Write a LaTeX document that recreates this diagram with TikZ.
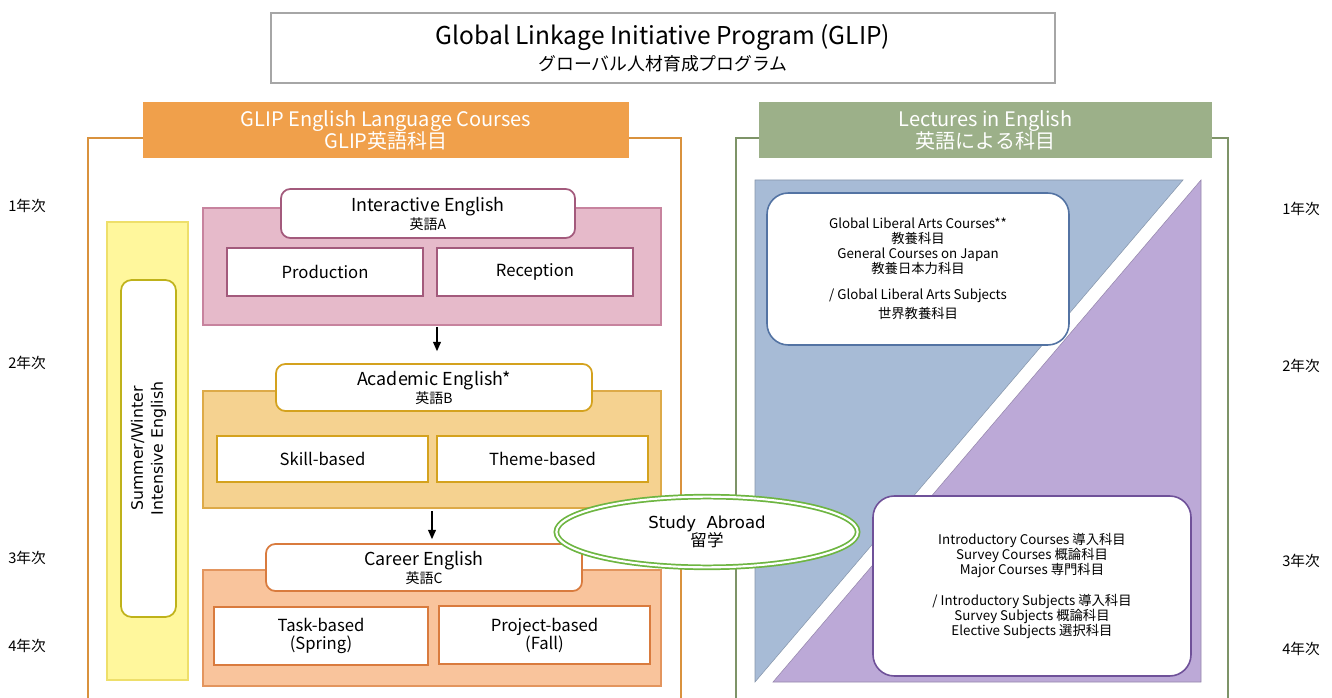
\documentclass[tikz,border=0pt]{standalone}
\usepackage{fontspec}
\setmainfont{Noto Sans CJK JP}
\newfontfamily\verd{DejaVu Sans}
\usetikzlibrary{shapes.geometric,arrows.meta}

\definecolor{glipOrange}{HTML}{F0A04B}
\definecolor{frameOrange}{HTML}{D9923E}
\definecolor{lecGreen}{HTML}{9CB089}
\definecolor{frameGreen}{HTML}{7E9468}
\definecolor{colYellow}{HTML}{FFF79C}
\definecolor{colYellowLine}{HTML}{EEDF6A}
\definecolor{olive}{HTML}{BFB21A}
\definecolor{pinkFill}{HTML}{E6BACA}
\definecolor{pinkLine}{HTML}{C7839E}
\definecolor{pinkDark}{HTML}{A35A7C}
\definecolor{acadFill}{HTML}{F5D290}
\definecolor{acadLine}{HTML}{DDAA48}
\definecolor{acadDark}{HTML}{D4A21E}
\definecolor{carFill}{HTML}{F9C49C}
\definecolor{carLine}{HTML}{E3955E}
\definecolor{carDark}{HTML}{D97B3E}
\definecolor{triBlue}{HTML}{A7BBD6}
\definecolor{triPurple}{HTML}{BCA9D7}
\definecolor{boxBlue}{HTML}{5373A3}
\definecolor{boxPurple}{HTML}{6F5199}
\definecolor{abroadGreen}{HTML}{6DB541}

\tikzset{
  boxsize/.style 2 args={minimum width=#1*0.75pt, minimum height=#2*0.75pt},
  yearlabel/.style={anchor=west, inner sep=0pt, font=\fontsize{11}{13}\selectfont},
  plainbox/.style={draw=gray!70, line width=1.2pt, fill=white, inner sep=0pt, align=center},
  header/.style={fill=#1, text=white, inner sep=0pt, align=center,
    font=\fontsize{15}{16.5}\selectfont},
  panel/.style 2 args={fill=#1, draw=#2, line width=1pt, inner sep=0pt},
  titlebox/.style={fill=white, draw=#1, line width=1.3pt, rounded corners=7pt,
    inner sep=0pt, align=center, font=\fontsize{13.4}{13.5}\selectfont},
  subbox/.style={fill=white, draw=#1, line width=1.6pt, inner sep=0pt,
    align=center, font=\fontsize{12.5}{13.5}\selectfont},
  lecbox/.style={fill=white, draw=#1, line width=1.2pt, rounded corners=16pt,
    inner sep=0pt, align=center, font=\fontsize{10}{11.25}\selectfont},
  flow/.style={-{Triangle[length=7pt,width=6pt]}, line width=0.8pt},
  yomi/.style={font=\fontsize{11}{12}\selectfont}
}
\newcommand{\yomi}[1]{{\fontsize{10.5}{12}\selectfont #1}}

\begin{document}
\begin{tikzpicture}[x=0.75pt,y=-0.75pt]
\useasboundingbox (0,0) rectangle (1332,698);

% year labels
\node[yearlabel] (y1l) at (8,206) {1年次};
\node[yearlabel] (y2l) at (8,363) {2年次};
\node[yearlabel] (y3l) at (8,558) {3年次};
\node[yearlabel] (y4l) at (8,646) {4年次};
\node[yearlabel] (y1r) at (1282,209) {1年次};
\node[yearlabel] (y2r) at (1282,366) {2年次};
\node[yearlabel] (y3r) at (1282,561) {3年次};
\node[yearlabel] (y4r) at (1282,649) {4年次};

% programme title
\node[plainbox, boxsize={784}{70}, font=\fontsize{18.4}{19.5}\selectfont] (glip) at (663,48)
  {Global Linkage Initiative Program (GLIP)\\{\fontsize{13.4}{15}\selectfont グローバル人材育成プログラム}};

% frames
\draw[frameOrange, line width=1.3pt] (88,698) -- (88,138) -- (681,138) -- (681,698);
\draw[frameGreen, line width=1.3pt] (736,698) -- (736,138) -- (1228,138) -- (1228,698);

% headers
\node[header=glipOrange, boxsize={486}{56}] (engH) at (386,130)
  {GLIP English Language Courses\\GLIP英語科目};
\node[header=lecGreen, boxsize={453}{56}] (lecH) at (985.5,130)
  {Lectures in English\\英語による科目};

% intensive column
\node[panel={colYellow}{colYellowLine}, boxsize={81}{458}] (intcol) at (147.5,451) {};
\node[fill=white, draw=olive, line width=1.3pt, rounded corners=8pt, inner sep=0pt,
  boxsize={55}{337}] (intbox) at (148.5,448.5) {};
\node[rotate=90, align=center, font=\verd\fontsize{11.8}{15}\selectfont] (intT)
  at (intbox.center) {Summer/Winter\\Intensive English};

% English A
\node[panel={pinkFill}{pinkLine}, boxsize={458}{117}] (pink) at (432,266.5) {};
\node[titlebox=pinkDark, boxsize={294}{49}] (engA) at (428,213.5)
  {Interactive English\\\yomi{英語A}};
\node[subbox=pinkDark, boxsize={196}{48}] (prod) at (325,272) {Production};
\node[subbox=pinkDark, boxsize={196}{48}] (recp) at (535,272) {Reception};

% English B
\node[panel={acadFill}{acadLine}, boxsize={458}{117}] (acad) at (432,449.5) {};
\node[titlebox=acadDark, boxsize={316}{47}] (engB) at (434,387.5)
  {Academic English*\\\yomi{英語B}};
\node[subbox=acadDark, boxsize={211}{46}] (skill) at (322.5,459) {Skill-based};
\node[subbox=acadDark, boxsize={211}{46}] (theme) at (542.5,459) {Theme-based};

% English C
\node[panel={carFill}{carLine}, boxsize={458}{116}] (career) at (432,628) {};
\node[titlebox=carDark, boxsize={316}{47}] (engC) at (424,567.5)
  {Career English\\\yomi{英語C}};
\node[subbox=carDark, boxsize={214}{58}] (task) at (321,636) {Task-based\\(Spring)};
\node[subbox=carDark, boxsize={211}{58}] (proj) at (544.5,635) {Project-based\\(Fall)};

% progression
\draw[flow, shorten <=1pt, shorten >=9pt] (pink.south -| 437,0) -- (engB.north -| 437,0);
\draw[flow, shorten <=2pt, shorten >=3pt] (acad.south) -- (engC.north -| acad.south);

% lectures in English
\fill[triBlue, draw=triBlue!80!black, line width=0.4pt] (755,180) -- (1183,180) -- (755,682) -- cycle;
\fill[triPurple, draw=triPurple!80!black, line width=0.4pt] (1201,180) -- (1201,682) -- (773,682) -- cycle;

\node[lecbox=boxBlue, boxsize={302}{152}] (liberal) at (918,269)
  {Global Liberal Arts Courses**\\教養科目\\General Courses on Japan\\教養日本力科目\\[8pt]
   / Global Liberal Arts Subjects\\[3pt]世界教養科目};
\node[lecbox=boxPurple, boxsize={318}{180}] (major) at (1032,586)
  {Introductory Courses 導入科目\\Survey Courses 概論科目\\Major Courses 専門科目\\[12pt]
   / Introductory Subjects 導入科目\\Survey Subjects 概論科目\\Elective Subjects 選択科目};

% study abroad
\node[ellipse, fill=white, draw=abroadGreen, double=white, double distance=1.6pt,
  line width=1.3pt, minimum width=226pt, minimum height=53pt, align=center,
  font=\verd\fontsize{12.4}{13.5}\selectfont] (abroad) at (707,532)
  {Study~~Abroad\\{\rmfamily 留学}};

\end{tikzpicture}
\end{document}
